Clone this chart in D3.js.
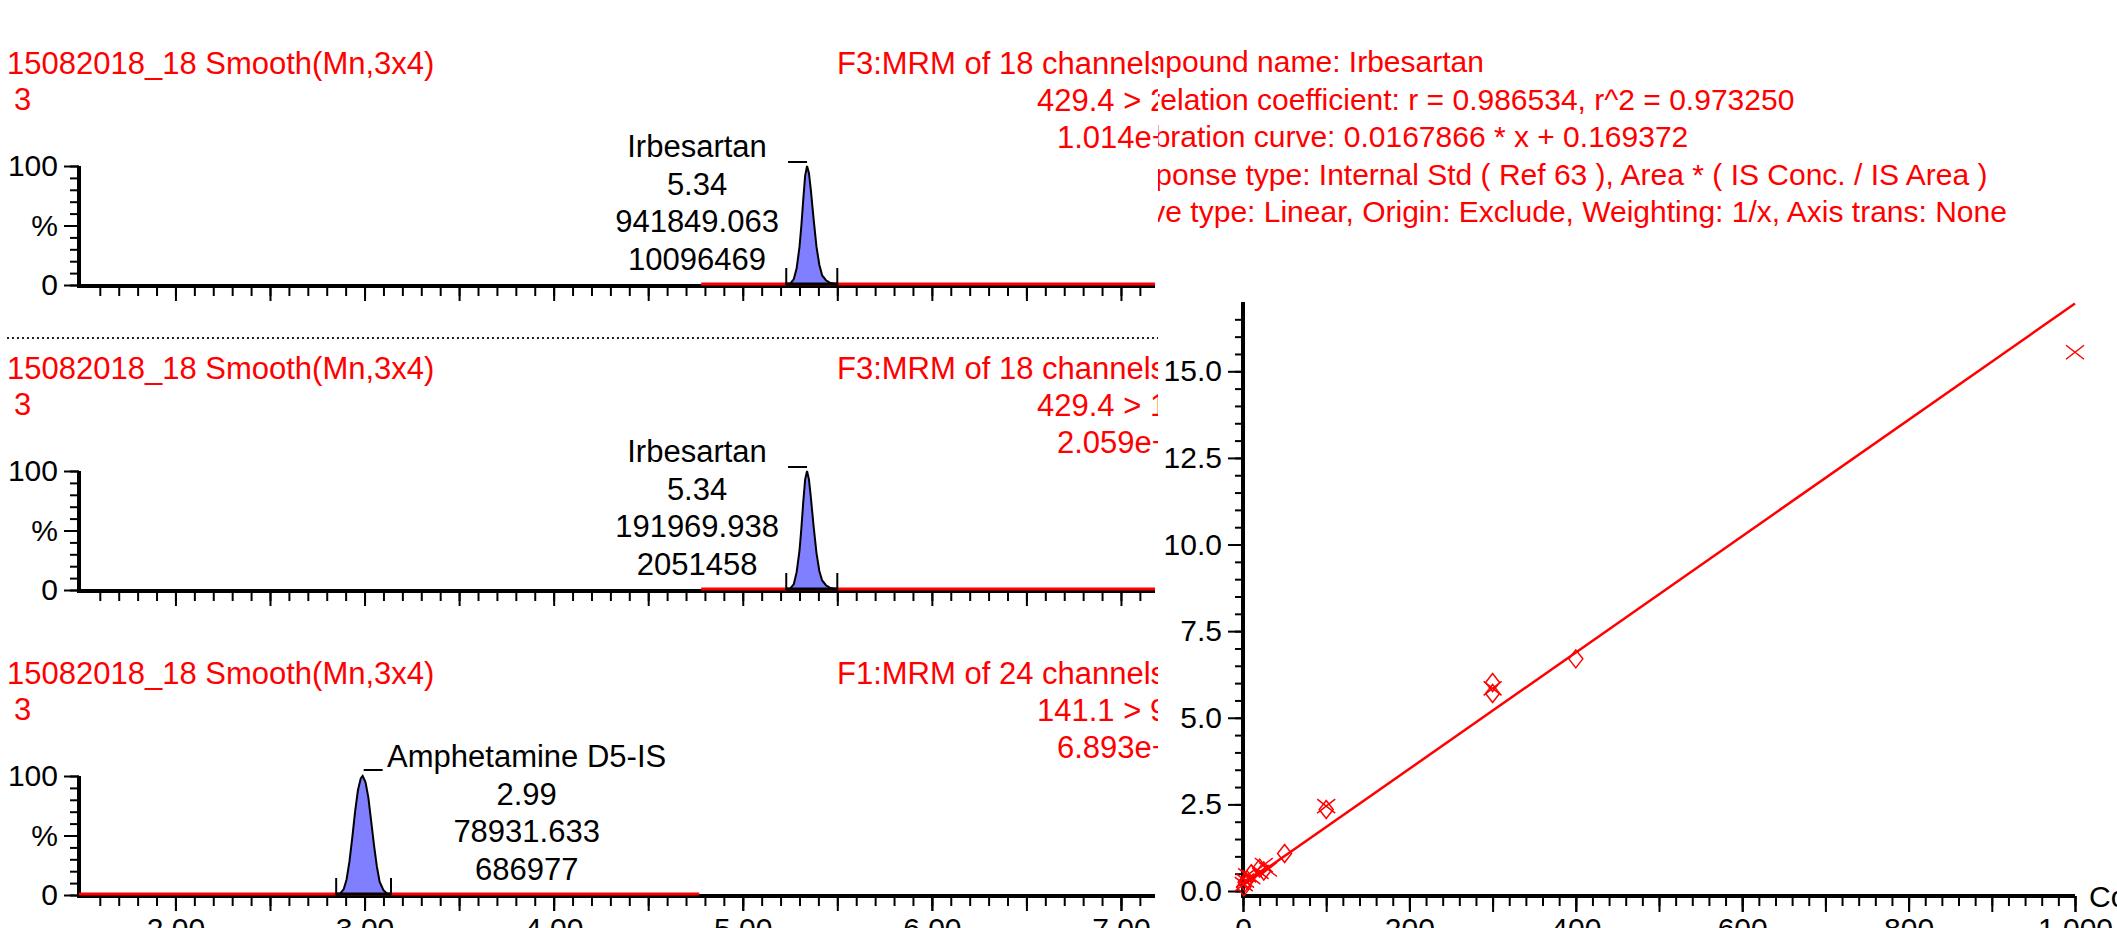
<!DOCTYPE html>
<html>
<head>
<meta charset="utf-8">
<script src="https://cdn.jsdelivr.net/npm/d3@7"></script>
<style>
  body { margin: 0; background: #fff; }
  svg { display: block; }
  text { font-family: "Liberation Sans", Arial, sans-serif; font-size: 30px; }
  .big { font-size: 31px; }
</style>
</head>
<body>
<div id="chart"></div>
<script>
// ---- chromatogram data ----
const runTitles = ["15082018_18 Smooth(Mn,3x4)", "15082018_18 Smooth(Mn,3x4)", "15082018_18 Smooth(Mn,3x4)"];
const runSubs = ["3", "3", "3"];
const channelInfo = [
  ["F3:MRM of 18 channels,ES+", "429.4 > 207.1", "1.014e+007"],
  ["F3:MRM of 18 channels,ES+", "429.4 > 180.1", "2.059e+006"],
  ["F1:MRM of 24 channels,ES+", "141.1 > 93.1", "6.893e+005"],
];
const peakLabels = [
  ["Irbesartan", "5.34", "941849.063", "10096469"],
  ["Irbesartan", "5.34", "191969.938", "2051458"],
  ["Amphetamine D5-IS", "2.99", "78931.633", "686977"],
];
const retTimes = [5.34, 5.34, 2.99];
const timeDomain = [1.49, 7.18];
const timeLabels = [2, 3, 4, 5, 6, 7];
const traceRanges = [[4.78, 7.18], [4.78, 7.18], [1.49, 4.77]];
const integLimits = [[5.23, 5.5], [5.23, 5.5], [2.85, 3.14]];

// peak traces: [time, % of max]
const peakIrb1 = [[5.23, 0], [5.25, 1], [5.27, 5], [5.285, 14], [5.30, 32], [5.31, 50], [5.32, 72], [5.33, 92], [5.34, 100], [5.35, 94], [5.36, 80], [5.375, 55], [5.39, 32], [5.405, 17], [5.42, 8], [5.44, 4], [5.46, 2], [5.48, 1], [5.50, 0]];
const peakIrb2 = [[5.23, 0], [5.25, 1], [5.27, 5], [5.285, 15], [5.30, 33], [5.31, 52], [5.32, 74], [5.33, 93], [5.34, 100], [5.35, 93], [5.36, 78], [5.375, 53], [5.39, 31], [5.405, 16], [5.42, 8], [5.44, 4], [5.46, 2], [5.48, 1], [5.50, 0]];
const peakAmph = [[2.85, 0], [2.87, 1], [2.89, 5], [2.905, 13], [2.92, 28], [2.935, 48], [2.95, 70], [2.965, 88], [2.98, 98], [2.99, 100], [3.005, 95], [3.02, 82], [3.035, 62], [3.05, 42], [3.065, 24], [3.08, 11], [3.10, 4], [3.12, 1], [3.14, 0]];
const peaks = [peakIrb1, peakIrb2, peakAmph];

// ---- calibration data ----
const calibInfo = [
  "Compound name: Irbesartan",
  "Correlation coefficient: r = 0.986534, r^2 = 0.973250",
  "Calibration curve: 0.0167866 * x + 0.169372",
  "Response type: Internal Std ( Ref 63 ), Area * ( IS Conc. / IS Area )",
  "Curve type: Linear, Origin: Exclude, Weighting: 1/x, Axis trans: None",
];
const fitLine = [[0, 0.169], [1000, 16.956]];
const crossPoints = [[1, 0.2], [2.5, 0.3], [5, 0.45], [10, 0.4], [20, 0.55], [25, 0.75], [30, 0.62], [100, 2.45], [300, 5.85], [1000, 15.55]];
const diamondPoints = [[1, 0.12], [2.5, 0.25], [5, 0.32], [10, 0.5], [20, 0.66], [25, 0.58], [50, 1.08], [100, 2.35], [300, 6.02], [300, 5.7], [400, 6.7]];
const concLabels = [0, 200, 400, 600, 800, 1000];
const respLabels = [0, 2.5, 5, 7.5, 10, 12.5, 15];

const W = 2117, H = 928;
const RED = "#ff0000";

const svg = d3.select("#chart").append("svg").attr("width", W).attr("height", H);

const defs = svg.append("defs");
defs.append("clipPath").attr("id", "clipLeft")
  .append("rect").attr("x", 0).attr("y", 0).attr("width", 1158).attr("height", H);
defs.append("clipPath").attr("id", "clipRight")
  .append("rect").attr("x", 1158).attr("y", 0).attr("width", W - 1158).attr("height", H);

const leftG = svg.append("g").attr("clip-path", "url(#clipLeft)");
const rightG = svg.append("g").attr("clip-path", "url(#clipRight)");

function styleAxis(g, w) {
  g.select(".domain").remove();
  g.selectAll(".tick line").attr("stroke", "#000").attr("stroke-width", w);
  g.selectAll(".tick text").attr("fill", "#000");
}

const xTime = d3.scaleLinear().domain(timeDomain).range([79, 1155]);
const zeros = [285, 590, 895];

zeros.forEach((zero, i) => {
  const yPct = d3.scaleLinear().domain([0, 100]).range([zero, zero - 119]);
  const g = leftG.append("g");

  // headers
  g.append("text").attr("class", "big").attr("x", 7).attr("y", zero - 222).attr("dy", "0.36em")
    .attr("fill", RED).text(runTitles[i]);
  g.append("text").attr("class", "big").attr("x", 14).attr("y", zero - 186).attr("dy", "0.36em")
    .attr("fill", RED).text(runSubs[i]);
  const starts = [837, 1037, 1057];
  const offs = [-222, -185, -148];
  channelInfo[i].forEach((s, k) => {
    g.append("text").attr("class", "big").attr("x", starts[k]).attr("y", zero + offs[k]).attr("dy", "0.36em")
      .attr("fill", RED).text(s);
  });

  // y axis
  const yMinor = d3.axisLeft(yPct).tickValues(d3.range(0, 101, 10)).tickSize(9).tickFormat("");
  g.append("g").attr("transform", "translate(79,0)").call(yMinor).call(a => styleAxis(a, 2));
  const yMajor = d3.axisLeft(yPct).tickValues([0, 50, 100]).tickSize(15).tickPadding(6)
    .tickFormat(d => (d === 50 ? "%" : d));
  g.append("g").attr("transform", "translate(79,0)").call(yMajor).call(a => styleAxis(a, 2));
  g.append("line").attr("x1", 79).attr("x2", 79).attr("y1", yPct(0) + 3).attr("y2", yPct(100))
    .attr("stroke", "#000").attr("stroke-width", 4);

  // x axis
  const xMinor = d3.axisBottom(xTime).tickValues(d3.range(16, 72).map(d => d / 10)).tickSize(10).tickFormat("");
  g.append("g").attr("transform", `translate(0,${zero + 1})`).call(xMinor).call(a => styleAxis(a, 2));
  const xHalf = d3.axisBottom(xTime).tickValues(d3.range(4, 15).map(d => d / 2)).tickSize(15).tickFormat("");
  g.append("g").attr("transform", `translate(0,${zero + 1})`).call(xHalf).call(a => styleAxis(a, 2));
  if (i === 2) {
    const xLab = d3.axisBottom(xTime).tickValues(timeLabels).tickSize(15).tickPadding(7)
      .tickFormat(d3.format(".2f"));
    g.append("g").attr("transform", `translate(0,${zero + 1})`).call(xLab).call(a => styleAxis(a, 2));
  }
  g.append("line").attr("x1", xTime.range()[0]).attr("x2", xTime.range()[1])
    .attr("y1", zero + 1).attr("y2", zero + 1).attr("stroke", "#000").attr("stroke-width", 4);

  // red trace baseline
  g.append("line").attr("x1", xTime(traceRanges[i][0])).attr("x2", xTime(traceRanges[i][1]))
    .attr("y1", yPct(0) - 1).attr("y2", yPct(0) - 1).attr("stroke", RED).attr("stroke-width", 3);

  // peak
  const area = d3.area().x(d => xTime(d[0])).y0(yPct(0)).y1(d => yPct(d[1]));
  const line = d3.line().x(d => xTime(d[0])).y(d => yPct(d[1]));
  g.append("path").datum(peaks[i]).attr("d", area).attr("fill", "#7f7fff");
  g.append("path").datum(peaks[i]).attr("d", line).attr("fill", "none")
    .attr("stroke", "#000").attr("stroke-width", 2);
  g.append("line").attr("x1", xTime(integLimits[i][0])).attr("x2", xTime(integLimits[i][1]))
    .attr("y1", yPct(0) - 1).attr("y2", yPct(0) - 1).attr("stroke", "#000").attr("stroke-width", 3);
  integLimits[i].forEach(t => {
    g.append("line").attr("x1", xTime(t)).attr("x2", xTime(t))
      .attr("y1", yPct(0)).attr("y2", yPct(0) - 17).attr("stroke", "#000").attr("stroke-width", 2);
  });

  // peak annotation
  const rtx = xTime(retTimes[i]);
  const labelDx = i === 2 ? 164 : -110;
  const labOffs = [-139, -101, -64, -26];
  peakLabels[i].forEach((s, k) => {
    g.append("text").attr("class", "big").attr("x", rtx + labelDx).attr("y", zero + labOffs[k]).attr("dy", "0.36em")
      .attr("text-anchor", "middle").attr("fill", "#000").text(s);
  });
  const dashX = i === 2 ? [rtx + 1, rtx + 20] : [rtx - 19, rtx];
  g.append("line").attr("x1", dashX[0]).attr("x2", dashX[1])
    .attr("y1", yPct(100) - (i === 2 ? 6 : 4)).attr("y2", yPct(100) - (i === 2 ? 6 : 4))
    .attr("stroke", "#000").attr("stroke-width", 2);
});

// dotted separator
leftG.append("line").attr("x1", 7).attr("x2", 1158).attr("y1", 338).attr("y2", 338)
  .attr("stroke", "#222").attr("stroke-width", 2).attr("stroke-dasharray", "2,3");

// ---- calibration curve ----
const xConc = d3.scaleLinear().domain([0, 1000]).range([1243, 2075]);
const yResp = d3.scaleLinear().domain([0, 17]).range([891, 302]);

calibInfo.forEach((s, k) => {
  rightG.append("text").attr("x", 1102).attr("y", [61, 99, 136, 174, 211][k]).attr("dy", "0.36em")
    .attr("fill", RED).text(s);
});

const cy = rightG.append("g");
cy.append("g").attr("transform", "translate(1243,0)")
  .call(d3.axisLeft(yResp).tickValues(d3.range(0, 34).map(d => d / 2)).tickSize(8).tickFormat(""))
  .call(a => styleAxis(a, 2));
cy.append("g").attr("transform", "translate(1243,0)")
  .call(d3.axisLeft(yResp).tickValues(respLabels).tickSize(15).tickPadding(6).tickFormat(d3.format(".1f")))
  .call(a => styleAxis(a, 2));
cy.append("line").attr("x1", 1243).attr("x2", 1243).attr("y1", 898).attr("y2", yResp(17))
  .attr("stroke", "#000").attr("stroke-width", 4);

cy.append("g").attr("transform", "translate(0,896)")
  .call(d3.axisBottom(xConc).tickValues(d3.range(0, 1001, 20)).tickSize(10).tickFormat(""))
  .call(a => styleAxis(a, 2));
cy.append("g").attr("transform", "translate(0,896)")
  .call(d3.axisBottom(xConc).tickValues(d3.range(0, 1001, 100)).tickSize(16).tickFormat(""))
  .call(a => styleAxis(a, 2));
cy.append("g").attr("transform", "translate(0,896)")
  .call(d3.axisBottom(xConc).tickValues(concLabels).tickSize(16).tickPadding(6))
  .call(a => styleAxis(a, 2));
cy.append("line").attr("x1", 1243).attr("x2", xConc(1000)).attr("y1", 896).attr("y2", 896)
  .attr("stroke", "#000").attr("stroke-width", 4);
cy.append("text").attr("x", 2089).attr("y", 896).attr("dy", "0.36em").attr("fill", "#000").text("Conc");

// fit line
cy.append("path").datum(fitLine)
  .attr("d", d3.line().x(d => xConc(d[0])).y(d => yResp(d[1])))
  .attr("fill", "none").attr("stroke", RED).attr("stroke-width", 2.5);

// points
cy.selectAll(".cross").data(crossPoints).enter().append("path")
  .attr("class", "cross")
  .attr("transform", d => `translate(${xConc(d[0])},${yResp(d[1])})`)
  .attr("d", "M-9,-7L9,7M-9,7L9,-7")
  .attr("fill", "none").attr("stroke", RED).attr("stroke-width", 1.5);
cy.selectAll(".diamond").data(diamondPoints).enter().append("path")
  .attr("class", "diamond")
  .attr("transform", d => `translate(${xConc(d[0])},${yResp(d[1])})`)
  .attr("d", "M0,-9L7,0L0,9L-7,0Z")
  .attr("fill", "none").attr("stroke", RED).attr("stroke-width", 1.5);
</script>
</body>
</html>
